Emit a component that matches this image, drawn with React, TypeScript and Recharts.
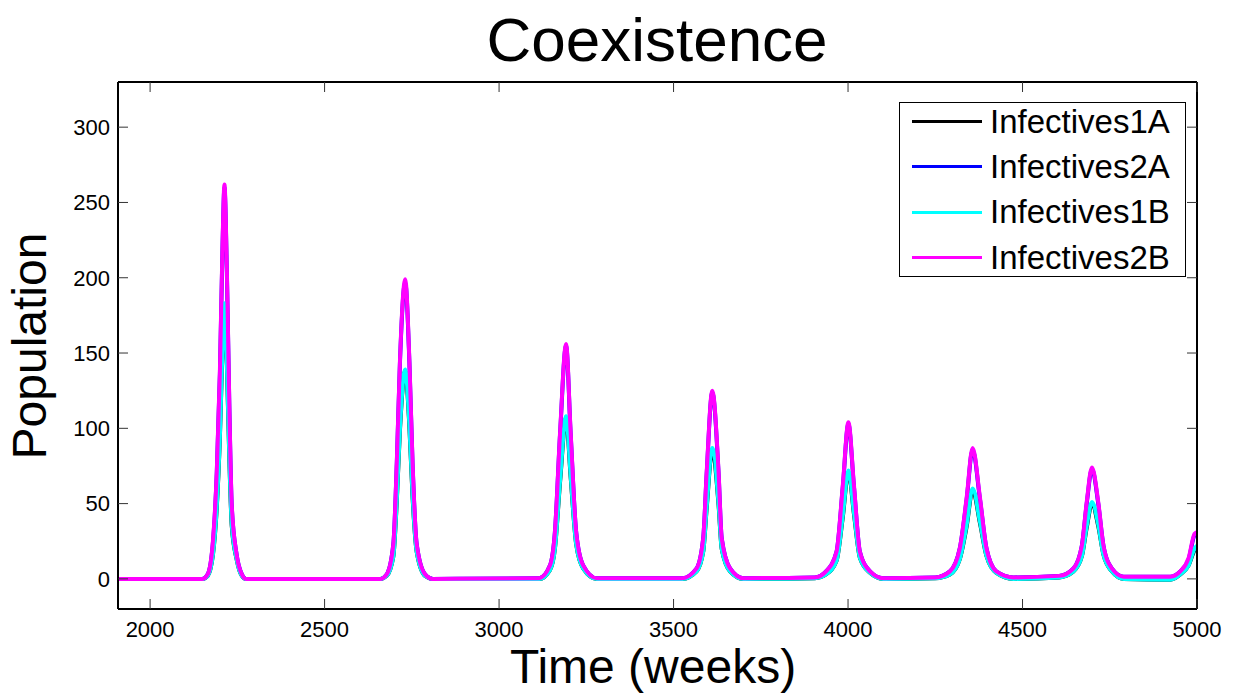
import { Line, LineChart, XAxis, YAxis, Legend } from "recharts"

const weeks = [
  1908, 2150, 2165, 2180, 2191, 2200, 2208, 2213, 2220, 2227, 2234, 2248, 2263, 2275,
  2660, 2678, 2697, 2707, 2716, 2731, 2743, 2752, 2764, 2788, 2810,
  3115, 3146, 3160, 3175, 3192, 3205, 3221, 3241, 3280,
  3525, 3566, 3585, 3595, 3611, 3629, 3638, 3662, 3700,
  3905, 3937, 3967, 3985, 4001, 4017, 4034, 4063, 4101,
  4250, 4292, 4320, 4340, 4357, 4378, 4397, 4425, 4474,
  4605, 4646, 4670, 4684, 4699, 4717, 4732, 4756, 4790, 4923, 4952, 4976, 4993, 5000,
]

const infectives1A = [
  0, 0, 2, 16, 47, 94, 157, 182, 142, 80, 35, 13, 2, 0,
  0, 2, 15, 52, 99, 138, 101, 55, 18, 2, 0,
  0, 6, 20, 65, 107, 68, 23, 7, 0,
  0, 5, 18, 47, 86, 49, 20, 5, 0,
  0.5, 3, 12, 41, 71, 43, 14, 4, 0,
  0.5, 3, 13, 35, 59, 37, 15, 4, 0,
  1, 5, 15, 34, 50, 35, 16, 5, 0, -0.5, 3, 9, 19, 21,
]

const infectives2A = [
  0, 0, 3, 24, 70, 136, 225, 260, 203, 115, 48, 16, 3, 0,
  0, 3, 23, 77, 144, 197, 144, 77, 23, 3, 0,
  0.5, 9, 31, 97, 155, 97, 31, 9, 0.5,
  0.5, 7, 27, 70, 124, 70, 27, 7, 0.5,
  1, 5, 18, 61, 103, 61, 18, 5, 0.5,
  1, 5, 20, 53, 86, 53, 20, 5, 1,
  2, 7, 22, 50, 73, 50, 22, 7, 1.5, 1.5, 5, 13, 29, 30,
]

const infectives1B = [
  0, 0, 2, 16, 48, 95, 158, 183, 143, 81, 36, 13, 2, 0,
  0, 2, 15, 53, 100, 139, 102, 56, 18, 2, 0,
  0, 6, 20, 66, 108, 69, 23, 7, 0,
  0, 5, 18, 48, 87, 50, 20, 5, 0,
  0.5, 3, 12, 42, 72, 44, 14, 4, 0,
  0.5, 3, 13, 36, 60, 38, 15, 4, 0,
  1, 5, 15, 35, 51, 36, 16, 5, 0, -0.5, 3, 9, 20, 22,
]

const infectives2B = [
  0, 0, 3, 25, 71, 138, 227, 262, 205, 116, 49, 16, 3, 0,
  0, 3, 23, 78, 145, 199, 145, 78, 23, 3, 0,
  0.5, 9, 31, 98, 156, 98, 31, 9, 0.5,
  0.5, 7, 27, 71, 125, 71, 27, 7, 0.5,
  1, 5, 18, 62, 104, 62, 18, 5, 0.5,
  1, 5, 20, 54, 87, 54, 20, 5, 1,
  2, 7, 22, 51, 74, 51, 22, 7, 1.5, 1.5, 5, 14, 30, 31,
]

const xTicks = [2000, 2500, 3000, 3500, 4000, 4500, 5000]
const yTicks = [0, 50, 100, 150, 200, 250, 300]

const series = [
  { key: "i1A", name: "Infectives1A", color: "#000000" },
  { key: "i2A", name: "Infectives2A", color: "#0000ff" },
  { key: "i1B", name: "Infectives1B", color: "#00ffff" },
  { key: "i2B", name: "Infectives2B", color: "#ff00ff" },
]

const data = weeks.map((t, i) => ({
  t,
  i1A: infectives1A[i],
  i2A: infectives2A[i],
  i1B: infectives1B[i],
  i2B: infectives2B[i],
}))

const font = "'Liberation Sans', Arial, sans-serif"
const TICK = 10
const GAP = 8

// matlab-style inward ticks, drawn by the tick renderers
function BottomTick(props: any) {
  const { x, y, payload } = props
  return (
    <g>
      <line x1={x} x2={x} y1={y - GAP} y2={y - GAP - TICK} stroke="#333" strokeWidth={1} />
      <text x={x} y={y + 4} dy="0.71em" textAnchor="middle" fontFamily={font} fontSize={22} fill="#000">
        {payload.value}
      </text>
    </g>
  )
}

function LeftTick(props: any) {
  const { x, y, payload } = props
  return (
    <g>
      <line x1={x + GAP} x2={x + GAP + TICK} y1={y} y2={y} stroke="#333" strokeWidth={1} />
      <text x={x} y={y} dy="0.355em" textAnchor="end" fontFamily={font} fontSize={22} fill="#000">
        {payload.value}
      </text>
    </g>
  )
}

function TopTick(props: any) {
  const { x, y } = props
  return <line x1={x} x2={x} y1={y + GAP} y2={y + GAP + TICK} stroke="#333" strokeWidth={1} />
}

function RightTick(props: any) {
  const { x, y } = props
  return <line x1={x - GAP} x2={x - GAP - TICK} y1={y} y2={y} stroke="#333" strokeWidth={1} />
}

function LegendBox() {
  return (
    <div
      style={{
        width: 287,
        height: 175,
        border: "1.5px solid #000",
        background: "#fff",
        fontFamily: font,
        fontSize: 33,
        boxSizing: "border-box",
        textAlign: "left",
      }}
    >
      {series.map((s, i) => (
        <div key={s.key} style={{ display: "flex", alignItems: "center", height: 45.3, marginTop: i === 0 ? -4 : 0 }}>
          <div style={{ width: 70, height: 3, background: s.color, marginLeft: 12, marginRight: 8 }} />
          <span style={{ color: "#000" }}>{s.name}</span>
        </div>
      ))}
    </div>
  )
}

export default function App() {
  const axisLine = { stroke: "#000", strokeWidth: 2 }
  return (
    <div style={{ position: "absolute", left: 0, top: 0, width: 1236, height: 696, background: "#fff" }}>
      <LineChart width={1236} height={696} data={data} margin={{ top: 81, right: 38, bottom: 86, left: 117 }}>
        <XAxis
          dataKey="t"
          type="number"
          domain={[1908, 5000]}
          ticks={xTicks}
          height={1}
          tickSize={0}
          tickMargin={GAP}
          axisLine={axisLine}
          tickLine={false}
          tick={BottomTick}
          allowDataOverflow
        />
        <XAxis
          xAxisId="top"
          orientation="top"
          dataKey="t"
          type="number"
          domain={[1908, 5000]}
          ticks={xTicks}
          height={1}
          tickSize={0}
          tickMargin={GAP}
          axisLine={axisLine}
          tickLine={false}
          tick={TopTick}
          allowDataOverflow
        />
        <YAxis
          type="number"
          domain={[-20, 330]}
          ticks={yTicks}
          width={1}
          tickSize={0}
          tickMargin={GAP}
          axisLine={axisLine}
          tickLine={false}
          tick={LeftTick}
          allowDataOverflow
        />
        <YAxis
          yAxisId="right"
          orientation="right"
          type="number"
          domain={[-20, 330]}
          ticks={yTicks}
          width={1}
          tickSize={0}
          tickMargin={GAP}
          axisLine={axisLine}
          tickLine={false}
          tick={RightTick}
          allowDataOverflow
        />
        {series.map((s) => (
          <Line
            key={s.key}
            dataKey={s.key}
            name={s.name}
            type="monotone"
            stroke={s.color}
            strokeWidth={4}
            dot={false}
            isAnimationActive={false}
          />
        ))}
        <Legend
          layout="vertical"
          align="center"
          verticalAlign="middle"
          content={() => <LegendBox />}
          wrapperStyle={{ top: 102, left: 899, width: 287, height: 175 }}
        />
      </LineChart>
      <svg width={1236} height={696} style={{ position: "absolute", left: 0, top: 0, pointerEvents: "none" }}>
        <text x={657} y={61} textAnchor="middle" fontFamily={font} fontSize={62} fill="#000">
          Coexistence
        </text>
        <text x={653} y={683} textAnchor="middle" fontFamily={font} fontSize={48} fill="#000">
          Time (weeks)
        </text>
        <text
          x={46}
          y={346}
          textAnchor="middle"
          fontFamily={font}
          fontSize={48}
          fill="#000"
          transform="rotate(-90 46 346)"
        >
          Population
        </text>
      </svg>
    </div>
  )
}
